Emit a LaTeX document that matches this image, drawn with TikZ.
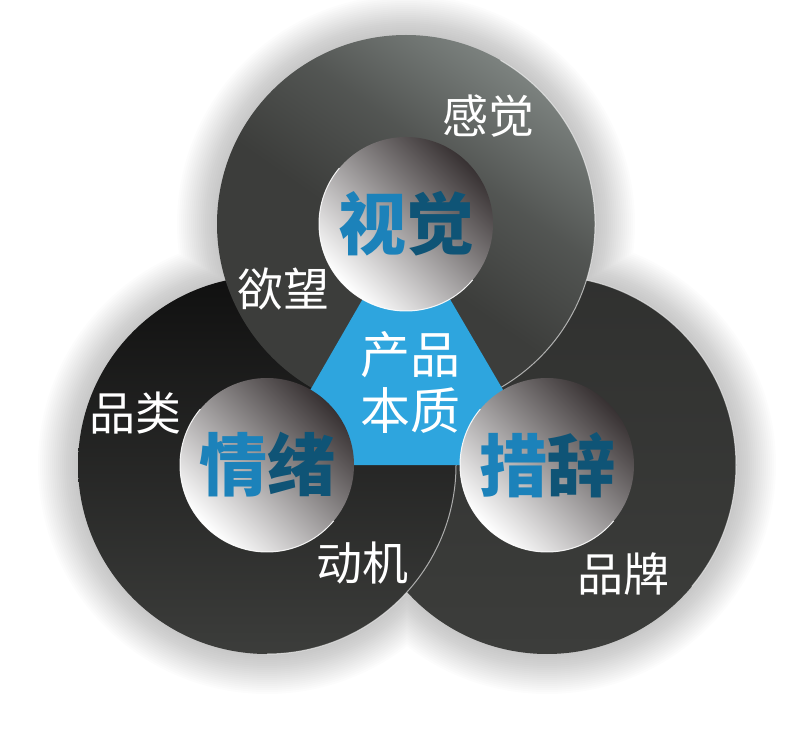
\documentclass[tikz,border=0pt]{standalone}
\usepackage{fontspec}
\newfontfamily\cjk{Noto Sans CJK SC}
\usetikzlibrary{positioning}

\definecolor{ringdark}{RGB}{60,61,59}
\definecolor{ringlight}{RGB}{124,130,127}
\definecolor{ringblack}{RGB}{16,16,16}
\definecolor{holedark}{RGB}{56,50,51}
\definecolor{holemid}{RGB}{200,196,196}
\definecolor{coreblue}{RGB}{46,165,222}
\definecolor{wordblue}{RGB}{28,130,186}
\definecolor{worddeep}{RGB}{15,84,118}

\pgfdeclareverticalshading{toptone}{100bp}{color(0bp)=(ringdark); color(46bp)=(ringdark);
    color(60bp)=(ringdark!65!ringlight); color(75bp)=(ringlight); color(100bp)=(ringlight)}

\begin{document}
\begin{tikzpicture}[x=1pt, y=1pt]
    \tikzstyle{ring}=[circle, minimum size=378pt, inner sep=0pt, outer sep=0pt]
    \tikzstyle{hole}=[circle, minimum size=174pt, inner sep=0pt, outer sep=0pt,
        top color=holedark, middle color=holemid, bottom color=white, shading angle=-45,
        font=\cjk\bfseries\fontsize{68}{68}\selectfont]
    \tikzstyle{word}=[text=white, font=\cjk\fontsize{46}{46}\selectfont]
    \tikzstyle{rim}=[white, line width=1pt, opacity=0.6]

    \useasboundingbox (0,0) rectangle (800,753);

    \coordinate (c_t) at (406,529);
    \coordinate (c_l) at (267,288);
    \coordinate (c_r) at (547,288);

    % soft shadow
    \foreach \s in {0,2,...,40}
        \fill[black, opacity=0.013, shift={(-12,-30)}]
            (c_t) circle (189+\s) (c_l) circle (189+\s) (c_r) circle (189+\s);

    % rings, right one at the bottom
    \node[ring, top color=ringdark!80!black, middle color=ringdark, bottom color=ringdark] (ring_r) at (c_r) {};
    \draw[rim] (ring_r.-40) arc[start angle=-40, end angle=80, radius=189];
    \node[ring, top color=ringblack, middle color=ringdark!85!black, bottom color=ringdark] (ring_l) at (c_l) {};
    \draw[rim] (ring_l.-90) arc[start angle=-90, end angle=10, radius=189];
    \node[ring, shading=toptone, shading angle=-35] (ring_t) at (c_t) {};
    \draw[rim] (ring_t.-60) arc[start angle=-60, end angle=60, radius=189];

    % core
    \fill[coreblue] (ring_t.center) -- (ring_l.center) -- (ring_r.center) -- cycle;

    % holes
    \node[hole] (hole_t) at (c_t) {\textcolor{wordblue}{视}\textcolor{worddeep}{觉}};
    \node[hole] (hole_l) at (c_l) {\textcolor{wordblue}{情}\textcolor{worddeep}{绪}};
    \node[hole] (hole_r) at (c_r) {\textcolor{wordblue}{措}\textcolor{worddeep}{辞}};
    \foreach \h in {hole_t, hole_l, hole_r}
        \draw[rim, opacity=0.9] (\h.140) arc[start angle=140, end angle=320, radius=87];

    \node[word, align=center, font=\cjk\fontsize{50}{56}\selectfont] (core) at (410,371) {产品\\本质};

    \node[word] (w_gj) at (488,637) {感觉};
    \node[word] (w_yw) at (283,464) {欲望};
    \node[word] (w_pl) at (135,340) {品类};
    \node[word] (w_dj) at (362,190) {动机};
    \node[word] (w_pp) at (623,179) {品牌};
\end{tikzpicture}
\end{document}
